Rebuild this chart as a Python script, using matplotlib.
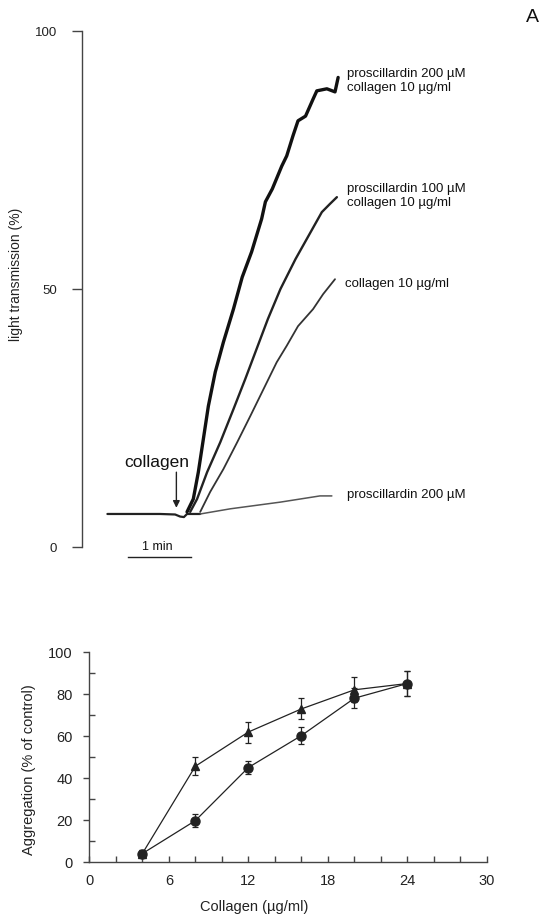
import matplotlib
matplotlib.use("Agg")
import matplotlib.pyplot as plt
import numpy as np

plt.rcParams['font.family'] = ['Liberation Sans', 'DejaVu Sans']

# ---------------- Panel A top: aggregation traces ----------------
# time in minutes, light transmission in %
baseline_t = [0.41, 0.84, 1.25, 1.49, 1.57, 1.63, 1.68, 1.89]
baseline_v = [6.4, 6.4, 6.4, 6.3, 5.9, 5.8, 6.4, 6.4]

pro200_col_t = [1.68, 1.78, 1.86, 1.94, 2.02, 2.13, 2.26, 2.42, 2.56, 2.71, 2.87, 2.93,
                3.04, 3.19, 3.27, 3.37, 3.45, 3.57, 3.69, 3.75, 3.91, 4.04, 4.09]
pro200_col_v = [6.8, 9.3, 14.5, 20.9, 27.3, 33.9, 39.7, 46.1, 52.3, 57.2, 63.6, 66.9,
                69.4, 73.8, 75.8, 79.7, 82.6, 83.5, 86.8, 88.4, 88.8, 88.2, 91.0]

pro100_col_t = [1.73, 1.84, 2.00, 2.21, 2.42, 2.61, 2.79, 2.97, 3.17, 3.41, 3.59, 3.83, 3.96, 4.07]
pro100_col_v = [6.8, 9.3, 14.5, 20.3, 26.7, 32.6, 38.4, 44.2, 50.0, 55.8, 59.7, 64.9, 66.5, 67.8]

col_t = [1.89, 2.05, 2.26, 2.48, 2.69, 2.90, 3.11, 3.27, 3.45, 3.69, 3.85, 4.04]
col_v = [6.8, 10.7, 15.1, 20.3, 25.4, 30.6, 35.8, 39.0, 42.8, 46.1, 49.0, 51.9]

pro200_t = [1.89, 2.37, 3.17, 3.80, 3.99]
pro200_v = [6.4, 7.4, 8.7, 9.9, 9.9]

top_yticks = [0, 50, 100]
trace_labels = ["proscillardin 200 µM\ncollagen 10 µg/ml",
                "proscillardin 100 µM\ncollagen 10 µg/ml",
                "collagen 10 µg/ml",
                "proscillardin 200 µM"]
label_pos = [(4.23, 90.5), (4.23, 68.2), (4.20, 51.2), (4.23, 10.3)]
collagen_addition_t = 1.51
scale_start, scale_len = 0.74, 1.0

# ---------------- Panel bottom: dose response ----------------
collagen_conc = [4, 8, 12, 16, 20, 24]
tri_mean = [4, 45.6, 61.9, 72.9, 82, 85]
tri_err = [1.5, 4.2, 5, 5, 6, 6]
circ_mean = [4, 19.7, 45, 60.2, 78, 85]
circ_err = [1.5, 3, 3.2, 4, 4.7, 6]

fig = plt.figure(figsize=(5.39, 9.2), dpi=100)

ax = fig.add_axes([81.7/539, (920-548)/920, 7.0*62.7/539, 516/920])
ax.set_xlim(0, 7.0)
ax.set_ylim(0, 100)
for s in ['top', 'right', 'bottom']:
    ax.spines[s].set_visible(False)
ax.spines['left'].set_color('#444444')
ax.spines['left'].set_linewidth(1.0)
ax.set_xticks([])
ax.set_yticks(top_yticks)
ax.tick_params(axis='y', direction='out', length=7.2, width=1.0, color='#444444',
               pad=10.5, labelsize=9.5, labelcolor='#222222')
ax.set_ylabel("light transmission (%)", fontsize=10, color='#222222')
ax.yaxis.set_label_coords(-(81.7-23.5)/438.9, (548-274)/516)

kw = dict(clip_on=False, solid_capstyle='round', solid_joinstyle='round')
ax.plot(baseline_t, baseline_v, color='#222222', lw=1.6, **kw)
ax.plot(pro200_t, pro200_v, color='#555555', lw=1.1, **kw)
ax.plot(col_t, col_v, color='#333333', lw=1.3, **kw)
ax.plot(pro100_col_t, pro100_col_v, color='#222222', lw=1.7, **kw)
ax.plot(pro200_col_t, pro200_col_v, color='#111111', lw=2.4, **kw)

for lab, (x, y) in zip(trace_labels, label_pos):
    ax.text(x, y, lab, fontsize=9.5, va='center', ha='left', color='#111111',
            linespacing=1.15)

ax.annotate("", xy=(collagen_addition_t, 7.6), xytext=(collagen_addition_t, 14.5),
            arrowprops=dict(arrowstyle='-|>', color='#222222', lw=1.0,
                            mutation_scale=10, shrinkA=0, shrinkB=0))
ax.text(1.19, 16.6, "collagen", fontsize=12.5, ha='center', va='center', color='#111111')

ax.plot([scale_start, scale_start + scale_len], [-1.95, -1.95], color='#222222',
        lw=1.0, clip_on=False)
ax.text(scale_start + scale_len / 2 - 0.03, 0.1, "1 min", fontsize=9, ha='center',
        va='center', color='#111111')

fig.text(532/539, 1 - 18/920, "A", fontsize=14, ha='center', va='center', color='#111111')

# bottom chart
bx = fig.add_axes([89.3/539, (920-863)/920, (487-89.3)/539, 210/920])
bx.set_xlim(0, 30)
bx.set_ylim(0, 100)
for s in ['top', 'right']:
    bx.spines[s].set_visible(False)
for s in ['left', 'bottom']:
    bx.spines[s].set_color('#444444')
    bx.spines[s].set_linewidth(1.0)
bx.set_xticks(np.arange(0, 31, 6))
bx.set_xticks(np.arange(0, 31, 2), minor=True)
bx.set_yticks(np.arange(0, 101, 20))
bx.set_yticks(np.arange(0, 101, 10), minor=True)
bx.tick_params(axis='x', which='both', direction='in', length=4, width=1.0,
               color='#444444', pad=8, labelsize=10.5, labelcolor='#222222')
bx.tick_params(axis='y', which='major', direction='out', length=4, width=1.0,
               color='#444444', pad=8, labelsize=10.5, labelcolor='#222222')
bx.tick_params(axis='y', which='minor', direction='in', length=4, width=1.0,
               color='#444444')

bx.errorbar(collagen_conc, tri_mean, yerr=tri_err, color='#222222', lw=0.9,
            marker='^', markersize=6, capsize=2.2, elinewidth=0.9, capthick=0.9,
            clip_on=False, zorder=3)
bx.errorbar(collagen_conc, circ_mean, yerr=circ_err, color='#222222', lw=0.9,
            marker='o', markersize=6.5, capsize=2.2, elinewidth=0.9, capthick=0.9,
            clip_on=False, zorder=3)

bx.set_xlabel("Collagen (µg/ml)", fontsize=10.5, color='#222222')
bx.xaxis.set_label_coords((254-89.3)/397.7, -(900-863)/210)
bx.set_ylabel("Aggregation (% of control)", fontsize=10.5, color='#222222')
bx.yaxis.set_label_coords(-(89.3-36)/397.7, (863-770)/210)

fig.savefig("out.png", dpi=100)
